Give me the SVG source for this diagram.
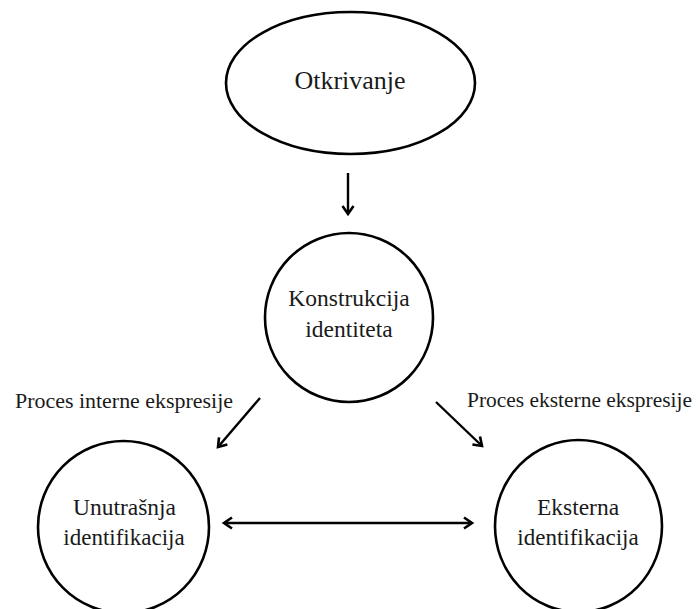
<svg xmlns="http://www.w3.org/2000/svg" width="699" height="609" viewBox="0 0 699 609">
<style>
.node{fill:#fff;stroke:#000;stroke-width:2.6}
.t{font-family:'Liberation Serif','DejaVu Serif',serif;fill:#1a1a1a;text-anchor:middle}
.lbl{font-family:'Liberation Serif','DejaVu Serif',serif;fill:#1a1a1a;font-size:22px}
.c{stroke:#000;stroke-width:2.4;fill:none}
</style>
<defs>
<marker id="ah" markerUnits="userSpaceOnUse" markerWidth="16" markerHeight="16" viewBox="-10 -8 12 16" refX="0" refY="0" orient="auto-start-reverse">
<path d="M-8,-5.5 L0,0 L-8,5.5" fill="none" stroke="#000" stroke-width="2.6" stroke-linejoin="miter"/>
</marker>
</defs>
<rect width="699" height="609" fill="#fff"/>
<g id="otkrivanje">
<ellipse class="node" cx="350.5" cy="83" rx="124.5" ry="71"/>
<text class="t" x="350" y="89" font-size="26" font-family="Liberation Serif, serif">Otkrivanje</text>
</g>
<g id="konstrukcija">
<ellipse class="node" cx="349" cy="317.5" rx="84" ry="84.5"/>
<text class="t" x="349" y="306" font-size="23.5" font-family="Liberation Serif, serif">Konstrukcija</text>
<text class="t" x="349" y="337" font-size="23.5" font-family="Liberation Serif, serif">identiteta</text>
</g>
<g id="unutrasnja">
<ellipse class="node" cx="123.5" cy="527" rx="85.5" ry="86"/>
<text class="t" x="124.5" y="515" font-size="23.5" font-family="Liberation Serif, serif">Unutrašnja</text>
<text class="t" x="124" y="545" font-size="23" font-family="Liberation Serif, serif">identifikacija</text>
</g>
<g id="eksterna">
<ellipse class="node" cx="578.5" cy="526" rx="83.5" ry="86"/>
<text class="t" x="578" y="515" font-size="23.5" font-family="Liberation Serif, serif">Eksterna</text>
<text class="t" x="578" y="545" font-size="23" font-family="Liberation Serif, serif">identifikacija</text>
</g>
<g id="labels">
<text class="lbl" x="15" y="408" textLength="218" lengthAdjust="spacingAndGlyphs" font-family="Liberation Serif, serif">Proces interne ekspresije</text>
<text class="lbl" x="467" y="407" textLength="225" lengthAdjust="spacingAndGlyphs" font-family="Liberation Serif, serif">Proces eksterne ekspresije</text>
</g>
<g id="connectors">
<line class="c" x1="348" y1="173" x2="348" y2="214" marker-end="url(#ah)"/>
<line class="c" x1="260" y1="398" x2="218" y2="447" marker-end="url(#ah)"/>
<line class="c" x1="436" y1="402" x2="482" y2="446" marker-end="url(#ah)"/>
<line class="c" x1="224" y1="523" x2="472" y2="523" marker-start="url(#ah)" marker-end="url(#ah)"/>
</g>
</svg>
